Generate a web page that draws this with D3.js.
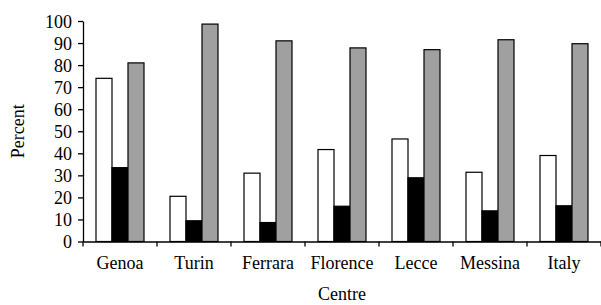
<!DOCTYPE html>
<html><head><meta charset="utf-8">
<script src="https://cdn.jsdelivr.net/npm/d3@7"></script>
<style>body{margin:0;background:#fff}</style>
</head><body>
<svg id="c" width="601" height="305"></svg>
<script>
const categories = ["Genoa","Turin","Ferrara","Florence","Lecce","Messina","Italy"];
const seriesA = [74, 20.5, 31, 41.7, 46.5, 31.4, 39];   // white
const seriesB = [33.5, 9.4, 8.6, 16, 28.9, 13.9, 16.2]; // black
const seriesC = [81, 98.6, 91, 87.8, 87, 91.5, 89.7];   // grey
const yTicks = [0,10,20,30,40,50,60,70,80,90,100];
const seriesFill = ["#ffffff","#000000","#a0a0a0"];

const svg = d3.select("#c");
const m = {left:83, right:0, top:21, bottom:63.5};
const W = 601, H = 305;
const x = d3.scaleBand().domain(categories).range([m.left, W - m.right]).paddingInner(0).paddingOuter(0);
const y = d3.scaleLinear().domain([0,100]).range([H - m.bottom, m.top]);
const inner = d3.scaleBand().domain([0,1,2]).range([0, 48]);
const offset = (x.bandwidth() - 48)/2;

const font = "'Liberation Serif','Times New Roman',serif";
const series = [seriesA, seriesB, seriesC];

const g = svg.append("g");
series.forEach((s, si) => {
  g.selectAll(null).data(categories).enter().append("rect")
    .attr("x", d => x(d) + offset + inner(si))
    .attr("y", (d,i) => y(s[i]))
    .attr("width", inner.bandwidth())
    .attr("height", (d,i) => y(0) - y(s[i]))
    .attr("fill", seriesFill[si])
    .attr("stroke", "#000")
    .attr("stroke-width", 1.2);
});

const yAxis = svg.append("g").attr("transform", `translate(${m.left},0)`)
  .call(d3.axisLeft(y).tickValues(yTicks).tickSize(5).tickSizeOuter(0).tickPadding(6));
yAxis.select(".domain").attr("stroke-width",1.3);
yAxis.selectAll(".tick line").attr("stroke-width",1.3);
yAxis.selectAll("text").attr("font-family", font).attr("font-size", 18).attr("fill","#000").attr("dy","0.34em");

const xAxis = svg.append("g").attr("transform", `translate(0,${y(0)})`)
  .call(d3.axisBottom(x).tickSize(0).tickSizeOuter(0).tickPadding(15));
xAxis.select(".domain").attr("stroke-width",1.3);
xAxis.selectAll("text").attr("font-family", font).attr("font-size", 18).attr("fill","#000");
// category boundary ticks
const bounds = categories.map(c => x(c)).concat([x(categories[categories.length-1]) + x.bandwidth()]);
xAxis.selectAll(".bt").data(bounds).enter().append("line")
  .attr("x1", d => d).attr("x2", d => d).attr("y1", 0).attr("y2", 5)
  .attr("stroke","#000").attr("stroke-width",1.3);

svg.append("text").attr("transform", `translate(24,${(y(0)+y(100))/2}) rotate(-90)`)
  .attr("text-anchor","middle").attr("font-family", font).attr("font-size", 18).text("Percent");
svg.append("text").attr("x", (m.left + W)/2).attr("y", 300)
  .attr("text-anchor","middle").attr("font-family", font).attr("font-size", 18).text("Centre");
</script>
</body></html>
